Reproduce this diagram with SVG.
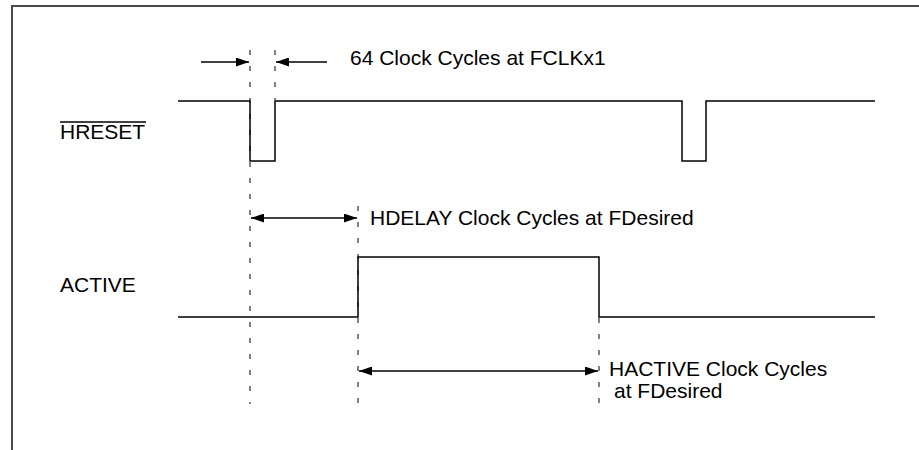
<svg xmlns="http://www.w3.org/2000/svg" width="919" height="450" viewBox="0 0 919 450">
<defs>
<style>
.sig{fill:none;stroke:#000;stroke-width:1.5}
.dash{fill:none;stroke:#000;stroke-width:1;stroke-dasharray:5 11}
.dim{fill:none;stroke:#000;stroke-width:1.3}
.lbl{font-family:"Liberation Sans",Arial,sans-serif;font-size:21px;fill:#000}
</style>
<marker id="ah" viewBox="0 0 13 9" refX="13" refY="4.5" markerWidth="13" markerHeight="9" markerUnits="userSpaceOnUse" orient="auto-start-reverse">
<path d="M0,0 L13,4.5 L0,9 Z" fill="#000"/>
</marker>
</defs>
<rect x="0" y="0" width="919" height="450" fill="#fff"/>
<rect id="frame" x="12" y="6" width="960" height="500" fill="none" stroke="#4a4a4a" stroke-width="2"/>
<g id="hreset">
<path class="sig" d="M178,101 H250 V161 H275 V101 H682 V161 H706 V101 H875"/>
<text class="lbl" x="60" y="139">HRESET</text>
<line x1="60" y1="122" x2="146" y2="122" stroke="#000" stroke-width="1.3"/>
</g>
<g id="active">
<path class="sig" d="M178,317 H358 V257 H599 V317 H875"/>
<text class="lbl" x="60" y="292">ACTIVE</text>
</g>
<g id="connectors">
<line class="dash" x1="250" y1="50" x2="250" y2="404"/>
<line class="dash" x1="275" y1="50" x2="275" y2="100"/>
<line class="dash" x1="358" y1="206" x2="358" y2="404"/>
<line class="dash" x1="599" y1="318" x2="599" y2="414"/>
<line class="dim" x1="201" y1="62" x2="249" y2="62" marker-end="url(#ah)"/>
<line class="dim" x1="327" y1="62" x2="276" y2="62" marker-end="url(#ah)"/>
<line class="dim" x1="251" y1="218" x2="357" y2="218" marker-start="url(#ah)" marker-end="url(#ah)"/>
<line class="dim" x1="359" y1="371" x2="598" y2="371" marker-start="url(#ah)" marker-end="url(#ah)"/>
</g>
<g id="labels">
<text class="lbl" x="350" y="65">64 Clock Cycles at FCLKx1</text>
<text class="lbl" x="370" y="225">HDELAY Clock Cycles at FDesired</text>
<text class="lbl" x="609" y="376">HACTIVE Clock Cycles</text>
<text class="lbl" x="614" y="398">at FDesired</text>
</g>
</svg>
